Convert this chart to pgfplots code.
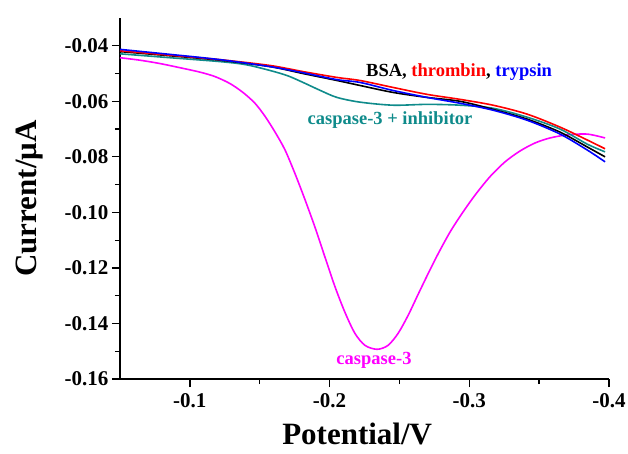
\documentclass[border=0pt]{standalone}
\usepackage{pgfplots}
\pgfplotsset{compat=1.18}
\usepackage{fontspec}
\setmainfont{Liberation Serif}

\definecolor{C1}{HTML}{FF00FF}
\definecolor{C2}{HTML}{0F8B8B}
\definecolor{C3}{HTML}{FF0000}
\definecolor{C4}{HTML}{0000FF}

\begin{document}
\begin{tikzpicture}
\begin{axis}[
    scale only axis,
    width=489pt, height=361pt,
    x dir=reverse,
    xmin=-0.4, xmax=-0.05,
    ymin=-0.16, ymax=-0.03,
    axis x line*=bottom, axis y line*=left,
    axis line style={line width=1.3pt},
    tick align=outside,
    tick style={black, line width=1.3pt},
    major tick length=8pt, minor tick length=5pt,
    minor tick num=1,
    xtick={-0.4,-0.3,-0.2,-0.1},
    ytick={-0.16,-0.14,-0.12,-0.10,-0.08,-0.06,-0.04},
    /pgf/number format/assume math mode=true,
    tick label style={font=\fontsize{21}{21}\selectfont\bfseries},
    xticklabel style={yshift=-3pt, /pgf/number format/.cd, fixed, precision=1},
    yticklabel style={/pgf/number format/.cd, fixed, fixed zerofill, precision=2},
    xlabel={Potential/V},
    ylabel={Current/μA},
    label style={font=\fontsize{31}{31}\selectfont\bfseries},
    xlabel style={at={(axis description cs:0.485,-0.152)}, anchor=center, inner sep=1pt},
    ylabel style={at={(axis description cs:-0.184,0.5)}, anchor=center},
    clip=false,
]
% caspase-3
\addplot[C1, line width=1.6pt, smooth] coordinates {
(-0.0500,-0.0443) (-0.0643,-0.0452) (-0.0786,-0.0464) (-0.0929,-0.0479)
(-0.1073,-0.0495) (-0.1180,-0.0511) (-0.1287,-0.0536)
(-0.1380,-0.0568) (-0.1466,-0.0607) (-0.1538,-0.0654) (-0.1610,-0.0711)
(-0.1681,-0.0775) (-0.1753,-0.0861) (-0.1824,-0.0954) (-0.1896,-0.1054)
(-0.1967,-0.1161) (-0.2039,-0.1268) (-0.2111,-0.1361) (-0.2182,-0.1436)
(-0.2254,-0.1479) (-0.2340,-0.1493) (-0.2418,-0.1479) (-0.2490,-0.1436)
(-0.2562,-0.1371) (-0.2633,-0.1296) (-0.2705,-0.1221) (-0.2776,-0.1150)
(-0.2862,-0.1071) (-0.2948,-0.1004) (-0.3041,-0.0938) (-0.3149,-0.0871)
(-0.3256,-0.0818) (-0.3363,-0.0779) (-0.3471,-0.0750) (-0.3578,-0.0732)
(-0.3700,-0.0721) (-0.3843,-0.0718) (-0.3972,-0.0732)
};
% caspase-3 + inhibitor
\addplot[C2, line width=1.6pt, smooth] coordinates {
(-0.0500,-0.0429) (-0.0858,-0.0443) (-0.1216,-0.0457) (-0.1400,-0.0468)
(-0.1574,-0.0489) (-0.1700,-0.0508) (-0.1810,-0.0532) (-0.1930,-0.0560)
(-0.2053,-0.0586) (-0.2218,-0.0603) (-0.2454,-0.0614) (-0.2698,-0.0611)
(-0.2934,-0.0614) (-0.3170,-0.0625) (-0.3413,-0.0657) (-0.3650,-0.0700)
(-0.3843,-0.0754) (-0.3972,-0.0782)
};
% BSA
\addplot[black, line width=1.6pt, smooth] coordinates {
(-0.0500,-0.0421) (-0.0858,-0.0436) (-0.1216,-0.0452) (-0.1574,-0.0475)
(-0.1810,-0.0500) (-0.2053,-0.0525) (-0.2218,-0.0543) (-0.2454,-0.0568)
(-0.2698,-0.0586) (-0.2934,-0.0600) (-0.3170,-0.0629) (-0.3413,-0.0664)
(-0.3650,-0.0711) (-0.3843,-0.0764) (-0.3972,-0.0800)
};
% thrombin
\addplot[C3, line width=1.6pt, smooth] coordinates {
(-0.0500,-0.0418) (-0.0858,-0.0434) (-0.1216,-0.0450) (-0.1574,-0.0471)
(-0.1810,-0.0493) (-0.2053,-0.0514) (-0.2218,-0.0525) (-0.2454,-0.0550)
(-0.2698,-0.0575) (-0.2934,-0.0593) (-0.3170,-0.0614) (-0.3413,-0.0646)
(-0.3650,-0.0693) (-0.3843,-0.0739) (-0.3972,-0.0771)
};
% trypsin
\addplot[C4, line width=1.6pt, smooth] coordinates {
(-0.0500,-0.0413) (-0.0858,-0.0431) (-0.1216,-0.0450) (-0.1574,-0.0475)
(-0.1810,-0.0497) (-0.2053,-0.0522) (-0.2218,-0.0532) (-0.2454,-0.0561)
(-0.2698,-0.0586) (-0.2934,-0.0607) (-0.3170,-0.0632) (-0.3413,-0.0668)
(-0.3650,-0.0718) (-0.3843,-0.0775) (-0.3972,-0.0818)
};
\node[font=\fontsize{18.5}{18.5}\selectfont\bfseries] at (axis cs:-0.2927,-0.0493)
  {BSA, \textcolor{C3}{thrombin}, \textcolor{C4}{trypsin}};
\node[font=\fontsize{18.5}{18.5}\selectfont\bfseries, text=C2] at (axis cs:-0.2433,-0.0668)
  {caspase-3 + inhibitor};
\node[font=\fontsize{18.5}{18.5}\selectfont\bfseries, text=C1] at (axis cs:-0.2318,-0.1532)
  {caspase-3};
\end{axis}
\pgfresetboundingbox
\path ([shift={(-120pt,-74pt)}]current axis.south west) rectangle ([shift={(19pt,18pt)}]current axis.north east);
\end{tikzpicture}
\end{document}
